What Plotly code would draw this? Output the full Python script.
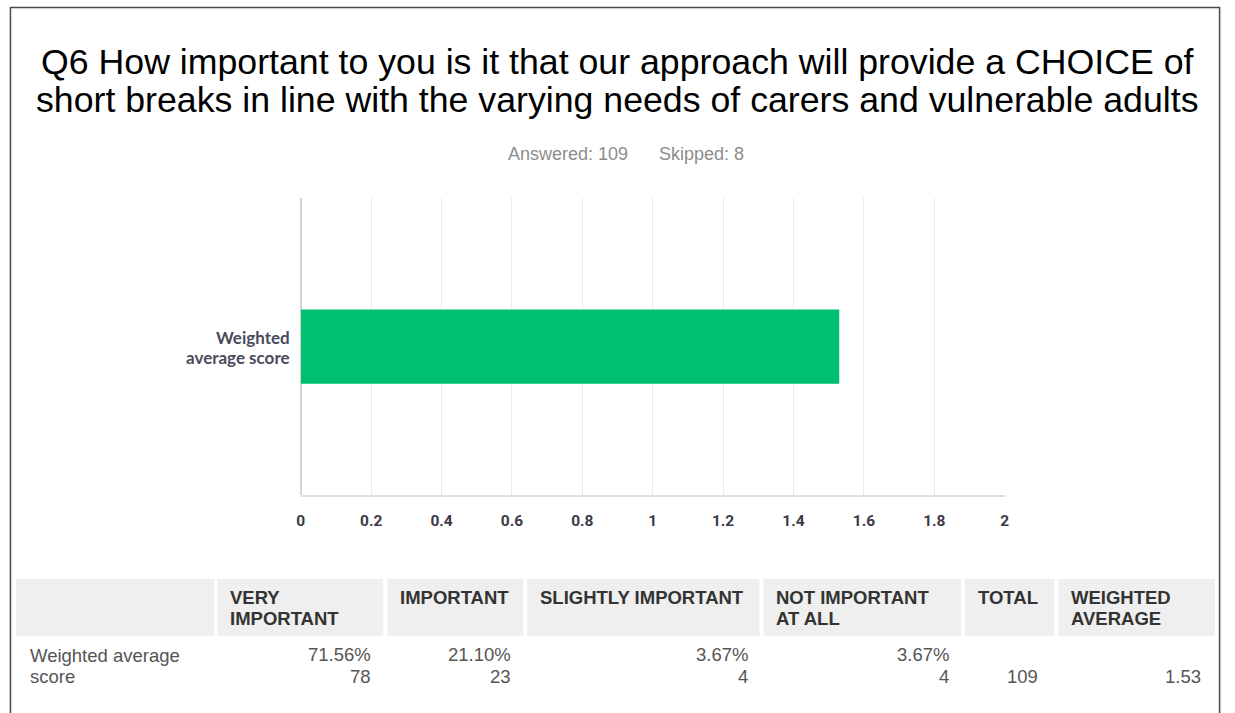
import plotly.graph_objects as go

# ---------------- data ----------------
categories = ["Weighted average score"]
weighted_avg = [1.53]
x_ticks = [0, 0.2, 0.4, 0.6, 0.8, 1, 1.2, 1.4, 1.6, 1.8, 2]
x_tick_labels = ["0", "0.2", "0.4", "0.6", "0.8", "1", "1.2", "1.4", "1.6", "1.8", "2"]

table_headers = [[], ["VERY", "IMPORTANT"], ["IMPORTANT"], ["SLIGHTLY IMPORTANT"],
                 ["NOT IMPORTANT", "AT ALL"], ["TOTAL"], ["WEIGHTED", "AVERAGE"]]
row_label = ["Weighted average", "score"]
percents = ["71.56%", "21.10%", "3.67%", "3.67%"]
counts = ["78", "23", "4", "4"]
total = "109"
weighted_text = "1.53"
answered = 109
skipped = 8

# ---------------- geometry helpers (page pixels -> paper) ----------------
W, H = 1235, 713


def fx(x):
    return x / W


def fy(y):
    return 1 - y / H


fig = go.Figure()
fig.add_trace(go.Bar(
    x=weighted_avg, y=categories, orientation="h",
    marker=dict(color="#00bf6f", line=dict(width=0)),
    width=0.25, hoverinfo="x",
))

fig.update_layout(
    width=W, height=H,
    margin=dict(l=0, r=0, t=0, b=0),
    paper_bgcolor="white", plot_bgcolor="white",
    showlegend=False,
    font=dict(family="Liberation Sans, Arial, sans-serif"),
    xaxis=dict(
        domain=[fx(299), fx(1008)], range=[0, 2],
        tickmode="array", tickvals=x_ticks, ticktext=x_tick_labels,
        showgrid=True, gridcolor="#efeaea", gridwidth=1,
        zeroline=True, zerolinecolor="#d4d4d4", zerolinewidth=2,
        showline=True, linecolor="#dedede", linewidth=2,
        ticks="", ticklabelstandoff=10,
        tickfont=dict(family="Roboto, sans-serif", size=15.5, color="#3a3a48", weight=700),
        fixedrange=True,
    ),
    yaxis=dict(
        domain=[fy(495), fy(198)], range=[-0.5, 0.5],
        showticklabels=False, showgrid=False, zeroline=False, showline=False,
        fixedrange=True,
    ),
)

ann = []


def txt(x, y, text, size, color, xanchor="left", weight=None, family=None):
    f = dict(size=size, color=color)
    if weight:
        f["weight"] = weight
    if family:
        f["family"] = family
    ann.append(dict(x=fx(x), y=fy(y), xref="paper", yref="paper", text=text,
                    showarrow=False, xanchor=xanchor, yanchor="middle",
                    borderpad=0, borderwidth=0, font=f))


# title lines
txt(618, 62, "Q6 How important to you is it that our approach will provide a CHOICE of",
    35.7, "#000000", xanchor="center")
txt(618, 100, "short breaks in line with the varying needs of carers and vulnerable adults",
    35.7, "#000000", xanchor="center")
# answered / skipped
txt(508, 154, f"Answered: {answered}", 18, "#8c8c8c")
txt(660, 154, f"Skipped: {skipped}", 18, "#8c8c8c")
# category label
txt(288, 337, "Weighted", 17, "#4a4a5c", xanchor="right", weight=700, family="Lato, sans-serif")
txt(288, 357, "average score", 17, "#4a4a5c", xanchor="right", weight=700, family="Lato, sans-serif")

# ---------------- table ----------------
col_bounds = [(12, 212), (215, 382), (386, 523), (527, 761), (765, 964), (968, 1058), (1062, 1220)]
shapes = []
for (x0, x1) in col_bounds:
    shapes.append(dict(type="rect", xref="paper", yref="paper",
                       x0=fx(x0), x1=fx(x1), y0=fy(636), y1=fy(579),
                       fillcolor="#efefef", line=dict(width=0), layer="below"))

for i, (x0, x1) in enumerate(col_bounds):
    for j, line in enumerate(table_headers[i]):
        txt(x0 + 13, 597 + 21 * j, line, 18.5, "#333333", weight=700)

for j, line in enumerate(row_label):
    txt(26, 655 + 21 * j, line, 18.5, "#555555")

for i in range(4):
    x0, x1 = col_bounds[i + 1]
    txt(x1 - 12, 654, percents[i], 18.5, "#555555", xanchor="right")
    txt(x1 - 12, 676, counts[i], 18.5, "#555555", xanchor="right")

txt(col_bounds[5][1] - 16, 676, total, 18.5, "#555555", xanchor="right")
txt(col_bounds[6][1] - 14, 676, weighted_text, 18.5, "#555555", xanchor="right")

# page border
border = dict(color="#4a4a4a", width=1.5)
shapes.append(dict(type="line", xref="paper", yref="paper", x0=fx(6.5), x1=fx(6.5), y0=0, y1=fy(7), line=border))
shapes.append(dict(type="line", xref="paper", yref="paper", x0=fx(6.5), x1=fx(1224.5), y0=fy(7.5), y1=fy(7.5), line=border))
shapes.append(dict(type="line", xref="paper", yref="paper", x0=fx(1224.5), x1=fx(1224.5), y0=0, y1=fy(7), line=border))

fig.update_layout(annotations=ann, shapes=shapes)

fig.write_html(
    "out.html",
    config={"displayModeBar": False},
    post_script="document.body.style.margin='0';document.body.style.overflow='hidden';",
)
